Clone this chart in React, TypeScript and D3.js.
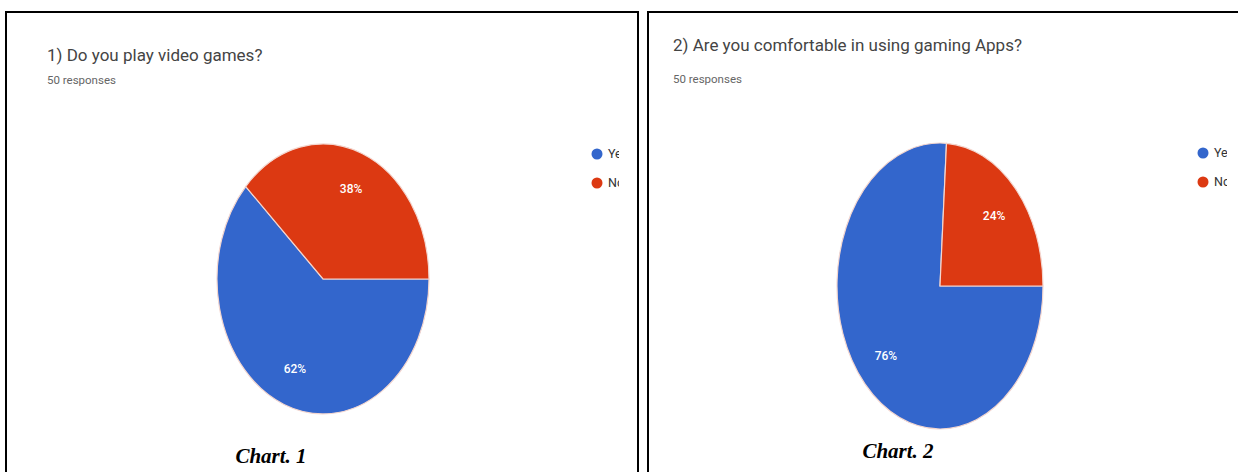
import React from "react";
import * as d3 from "d3";

const categories = ["Yes", "No"];
const colors = ["#3366cc", "#dc3912"];
const chart1Values = [62, 38];
const chart2Values = [76, 24];
const titles = ["1) Do you play video games?", "2) Are you comfortable in using gaming Apps?"];
const subtitles = ["50 responses", "50 responses"];
const captions = ["Chart. 1", "Chart. 2"];

type PanelCfg = {
  values: number[];
  title: string;
  subtitle: string;
  caption: string;
  border: { x: number; y: number; w: number; h: number };
  clipRight: number;
  titleX: number;
  titleY: number;
  subY: number;
  cx: number;
  cy: number;
  rx: number;
  ry: number;
  legendX: number;
  legendY: number;
  captionX: number;
  captionY: number;
};

const panels: PanelCfg[] = [
  {
    values: chart1Values, title: titles[0], subtitle: subtitles[0], caption: captions[0],
    border: { x: 6, y: 12, w: 632, h: 480 }, clipRight: 619,
    titleX: 47, titleY: 61, subY: 84,
    cx: 323, cy: 279, rx: 106, ry: 135,
    legendX: 597, legendY: 154, captionX: 271, captionY: 463,
  },
  {
    values: chart2Values, title: titles[1], subtitle: subtitles[1], caption: captions[1],
    border: { x: 648, y: 12, w: 620, h: 480 }, clipRight: 1227,
    titleX: 673, titleY: 51, subY: 83,
    cx: 940, cy: 286, rx: 103, ry: 143,
    legendX: 1203, legendY: 153, captionX: 898, captionY: 458,
  },
];

function Panel({ p, idx }: { p: PanelCfg; idx: number }) {
  const pie = d3.pie<number>().sort(null).startAngle(Math.PI / 2).endAngle(Math.PI / 2 + 2 * Math.PI);
  const arcs = pie(p.values);
  const arc = d3.arc<d3.PieArcDatum<number>>().innerRadius(0).outerRadius(1);
  const labelArc = d3.arc<d3.PieArcDatum<number>>().innerRadius(0.72 * 2).outerRadius(0);
  const total = d3.sum(p.values);
  const clipId = `clip${idx}`;
  return (
    <g>
      <defs>
        <clipPath id={clipId}>
          <rect x={p.border.x} y={p.border.y} width={p.clipRight - p.border.x} height={472} />
        </clipPath>
      </defs>
      <rect x={p.border.x} y={p.border.y} width={p.border.w} height={p.border.h} fill="#fff" stroke="#000" strokeWidth={2} />
      <g clipPath={`url(#${clipId})`}>
        <text x={p.titleX} y={p.titleY} fontFamily="Roboto" fontSize={17} fill="#444">{p.title}</text>
        <text x={p.titleX} y={p.subY} fontFamily="Roboto" fontSize={11.5} fill="#666">{p.subtitle}</text>
        <g transform={`translate(${p.cx},${p.cy})`}>
          <g transform={`scale(${p.rx},${p.ry})`}>
            {arcs.map((a, i) => (
              <path key={i} d={arc(a) || ""} fill={colors[i]} stroke="#f3d6cf" strokeWidth={1.2} vectorEffect="non-scaling-stroke" />
            ))}
          </g>
          {arcs.map((a, i) => {
            const [lx, ly] = labelArc.centroid(a);
            return (
              <text key={i} x={lx * p.rx} y={ly * p.ry} textAnchor="middle" dominantBaseline="central"
                fontFamily="Roboto" fontSize={12} fontWeight={500} fill="#fff">
                {`${Math.round((a.data / total) * 100)}%`}
              </text>
            );
          })}
        </g>
        {categories.map((c, i) => (
          <g key={c} transform={`translate(${p.legendX},${p.legendY + i * 29})`}>
            <circle r={5.5} fill={colors[i]} />
            <text x={11} dy="0.35em" fontFamily="Roboto" fontSize={12.5} fill="#333">{c}</text>
          </g>
        ))}
      </g>
      <text x={p.captionX} y={p.captionY} textAnchor="middle" fontFamily="Liberation Serif" fontWeight="bold"
        fontStyle="italic" fontSize={21} fill="#000">{p.caption}</text>
    </g>
  );
}

export default function App() {
  return (
    <svg width={1238} height={472} style={{ position: "absolute", left: 0, top: 0, background: "#fff" }}>
      <rect width={1238} height={472} fill="#fff" />
      {panels.map((p, i) => <Panel key={i} p={p} idx={i} />)}
    </svg>
  );
}
